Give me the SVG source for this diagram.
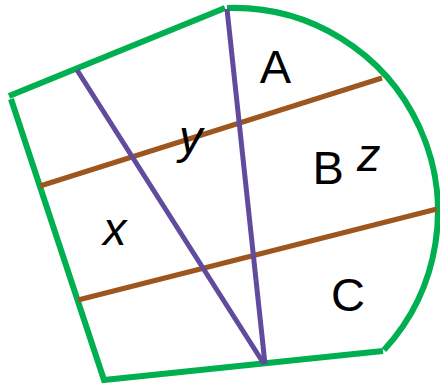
<svg xmlns="http://www.w3.org/2000/svg" width="440" height="385" viewBox="0 0 440 385">
<style>
.g{fill:none;stroke:#00b050;stroke-width:6;stroke-linecap:butt;stroke-linejoin:miter}
.p{fill:none;stroke:#604b9c;stroke-width:5}
.b{fill:none;stroke:#9c561e;stroke-width:5}
.t{font-family:"Liberation Sans",Arial,sans-serif;font-size:47px;fill:#000}
.i{font-style:italic}
</style>
<rect width="440" height="385" fill="#fff"/>
<g id="outline">
<line class="g" x1="9" y1="96" x2="225" y2="8"/>
<polyline class="g" points="11,99 104,380 383,351"/>
<path class="g" d="M227,8 A204,204 0 0 1 384,350"/>
</g>
<g id="connectors">
<line class="b" x1="40" y1="186" x2="382" y2="78"/>
<line class="b" x1="78" y1="300" x2="437" y2="209"/>
<line class="p" x1="77" y1="70" x2="264" y2="364"/>
<line class="p" x1="227" y1="9" x2="265" y2="364"/>
</g>
<g id="labels">
<text class="t" x="275.5" y="83" text-anchor="middle">A</text>
<text class="t" x="312.5" y="184">B</text>
<text class="t i" x="357" y="171">z</text>
<text class="t i" x="179" y="153">y</text>
<text class="t i" x="103" y="245">x</text>
<text class="t" x="331" y="311">C</text>
</g>
</svg>
